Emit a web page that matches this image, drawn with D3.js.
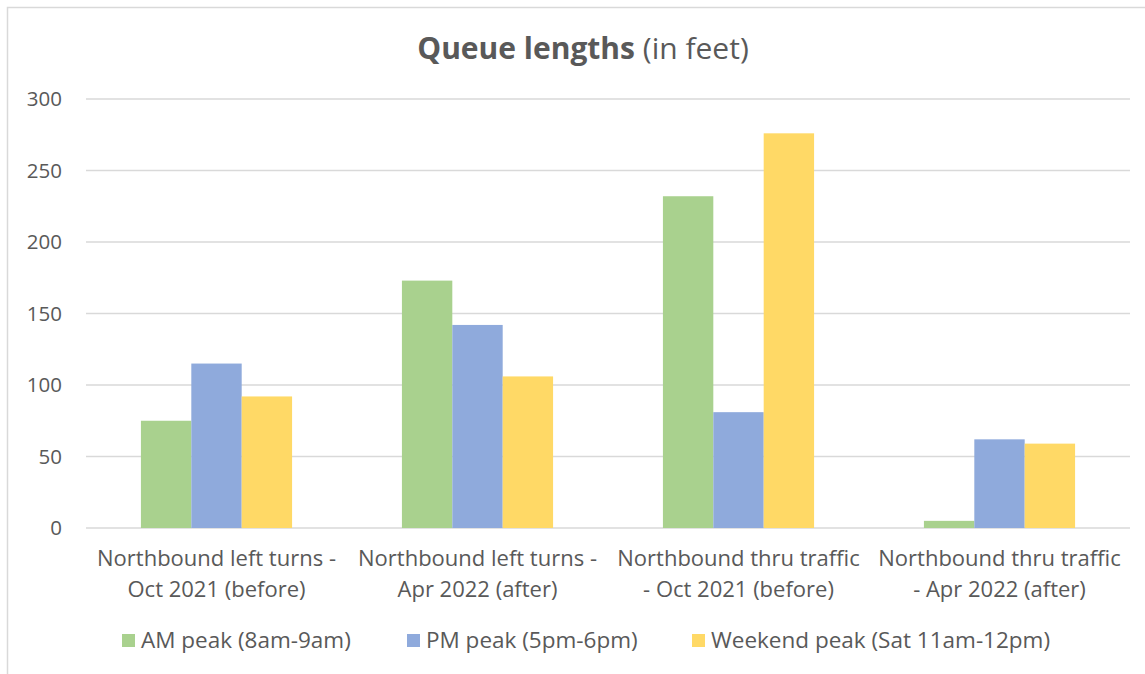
<!DOCTYPE html>
<html>
<head>
<meta charset="utf-8">
<script src="https://cdn.jsdelivr.net/npm/d3@7"></script>
<style>
  body { margin: 0; background: #fff; }
  svg text { font-family: "Open Sans", "Noto Sans", sans-serif; fill: #595959; }
</style>
</head>
<body>
<svg id="chart" width="1145" height="674"></svg>
<script>
const CATEGORIES = [
  ['Northbound left turns -', 'Oct 2021 (before)'],
  ['Northbound left turns -', 'Apr 2022 (after)'],
  ['Northbound thru traffic', '- Oct 2021 (before)'],
  ['Northbound thru traffic', '- Apr 2022 (after)']
]
const SERIES = ['AM peak (8am-9am)', 'PM peak (5pm-6pm)', 'Weekend peak (Sat 11am-12pm)']
const AM_PEAK = [75, 173, 232, 5]
const PM_PEAK = [115, 142, 81, 62]
const WEEKEND_PEAK = [92, 106, 276, 59]
const Y_TICKS = [0, 50, 100, 150, 200, 250, 300]
const COLORS = ['#a9d18e', '#8faadc', '#ffd966']

const values = [AM_PEAK, PM_PEAK, WEEKEND_PEAK]
const svg = d3.select('#chart')

// outer chart border (left + top visible)
svg.append('rect')
  .attr('x', 7.5).attr('y', 7.5)
  .attr('width', 1160).attr('height', 700)
  .attr('fill', 'none').attr('stroke', '#d9d9d9').attr('stroke-width', 1.5)

const margin = { top: 99, left: 86 }

const g = svg.append('g').attr('transform', `translate(${margin.left},${margin.top})`)

const x = d3.scaleBand().domain(d3.range(CATEGORIES.length)).range([0, 1044])
const x1 = d3.scaleBand().domain(d3.range(SERIES.length))
  .range([0, x.bandwidth()]).paddingOuter(1.09)
const y = d3.scaleLinear().domain([0, 300]).range([429, 0])

// gridlines
g.append('g')
  .selectAll('line')
  .data(Y_TICKS)
  .join('line')
  .attr('x1', 0).attr('x2', 1044)
  .attr('y1', d => y(d)).attr('y2', d => y(d))
  .attr('stroke', '#d9d9d9').attr('stroke-width', 1.5)

// y axis labels
g.append('g')
  .selectAll('text')
  .data(Y_TICKS)
  .join('text')
  .attr('x', -24).attr('y', d => y(d))
  .attr('dy', '0.35em')
  .attr('text-anchor', 'end')
  .attr('font-size', 20.5)
  .text(d => d)

// bars
SERIES.forEach((s, si) => {
  g.append('g')
    .selectAll('rect')
    .data(values[si])
    .join('rect')
    .attr('x', (d, i) => x(i) + x1(si))
    .attr('y', d => y(d))
    .attr('width', x1.bandwidth())
    .attr('height', d => y(0) - y(d))
    .attr('fill', COLORS[si])
})

// category labels
const cat = g.append('g')
  .selectAll('text')
  .data(CATEGORIES)
  .join('text')
  .attr('x', (d, i) => x(i) + x.bandwidth() / 2)
  .attr('y', 467)
  .attr('text-anchor', 'middle')
  .attr('font-size', 22)
cat.selectAll('tspan')
  .data(d => d)
  .join('tspan')
  .attr('x', function () { return this.parentNode.getAttribute('x') })
  .attr('dy', (d, i) => i === 0 ? 0 : 31)
  .text(d => d)

// title
const title = svg.append('text')
  .attr('x', 583).attr('y', 59)
  .attr('text-anchor', 'middle')
  .attr('font-size', 30)
title.append('tspan').attr('font-weight', 'bold').text('Queue lengths')
title.append('tspan').text(' (in feet)')

// legend
const LEGEND_X = [122, 407, 692]
const legend = svg.append('g')
  .selectAll('g')
  .data(SERIES)
  .join('g')
  .attr('transform', (d, i) => `translate(${LEGEND_X[i]},634)`)
legend.append('rect')
  .attr('width', 13).attr('height', 13)
  .attr('fill', (d, i) => COLORS[i])
legend.append('text')
  .attr('x', 19).attr('y', 6.5)
  .attr('dy', '0.35em')
  .attr('font-size', 22.5)
  .text(d => d)
</script>
</body>
</html>
